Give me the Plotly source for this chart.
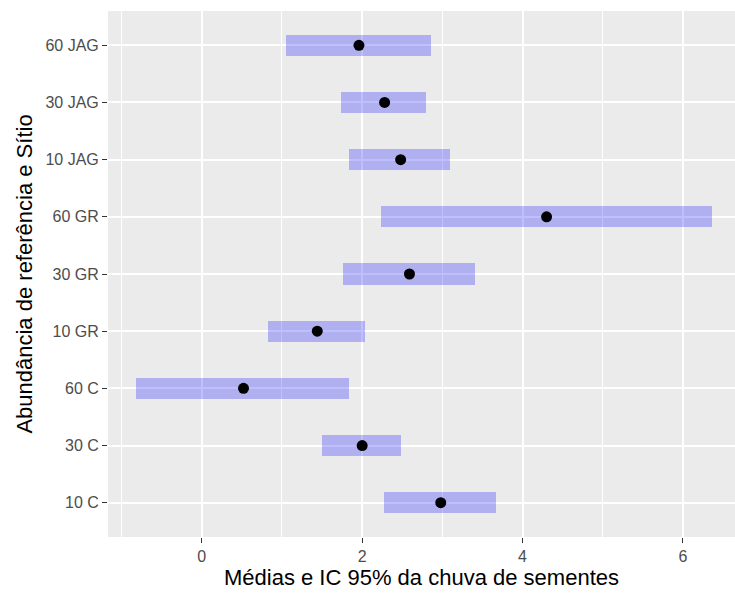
import plotly.graph_objects as go

categories = ["10 C", "30 C", "60 C", "10 GR", "30 GR", "60 GR", "10 JAG", "30 JAG", "60 JAG"]
means = [2.98, 2.00, 0.52, 1.44, 2.59, 4.30, 2.48, 2.28, 1.96]
lower = [2.27, 1.50, -0.82, 0.83, 1.76, 2.23, 1.84, 1.74, 1.05]
upper = [3.67, 2.48, 1.83, 2.04, 3.41, 6.36, 3.09, 2.79, 2.86]
x_ticks = [0, 2, 4, 6]

font_family = "Liberation Sans, Arial, sans-serif"

fig = go.Figure()
fig.add_trace(go.Bar(
    y=categories,
    x=[u - l for u, l in zip(upper, lower)],
    base=lower,
    orientation="h",
    width=0.37,
    marker=dict(color="rgba(0,0,255,0.25)", line=dict(width=0)),
    showlegend=False,
    hoverinfo="skip",
))
fig.add_trace(go.Scatter(
    y=categories,
    x=means,
    mode="markers",
    marker=dict(color="black", size=11),
    showlegend=False,
))

fig.update_layout(
    width=735, height=596,
    margin=dict(l=108, r=0, t=11, b=59),
    paper_bgcolor="white",
    plot_bgcolor="#EBEBEB",
    font=dict(family=font_family, color="#4D4D4D"),
    bargap=0,
)
fig.update_xaxes(
    range=[-1.17, 6.65],
    tickvals=x_ticks,
    ticktext=[str(v) for v in x_ticks],
    showgrid=True, gridcolor="white", gridwidth=2,
    minor=dict(tickvals=[-1, 1, 3, 5], showgrid=True, gridcolor="white", gridwidth=1, ticks=""),
    zeroline=False,
    ticks="outside", ticklen=5, tickcolor="#333333", tickwidth=1,
    tickfont=dict(size=16, color="#4D4D4D"),
    title=dict(text="Médias e IC 95% da chuva de sementes", font=dict(size=22, color="black"), standoff=2),
    showline=False,
    automargin=False,
)
fig.update_yaxes(
    categoryorder="array", categoryarray=categories,
    range=[-0.6, 8.6],
    showgrid=True, gridcolor="white", gridwidth=2,
    zeroline=False,
    ticks="outside", ticklen=5, tickcolor="#333333", tickwidth=1,
    tickfont=dict(size=16, color="#4D4D4D"),
    title=dict(text="Abundância de referência e Sítio", font=dict(size=22, color="black"), standoff=6),
    showline=False,
    automargin=False,
)

fig.write_html("out.html")
